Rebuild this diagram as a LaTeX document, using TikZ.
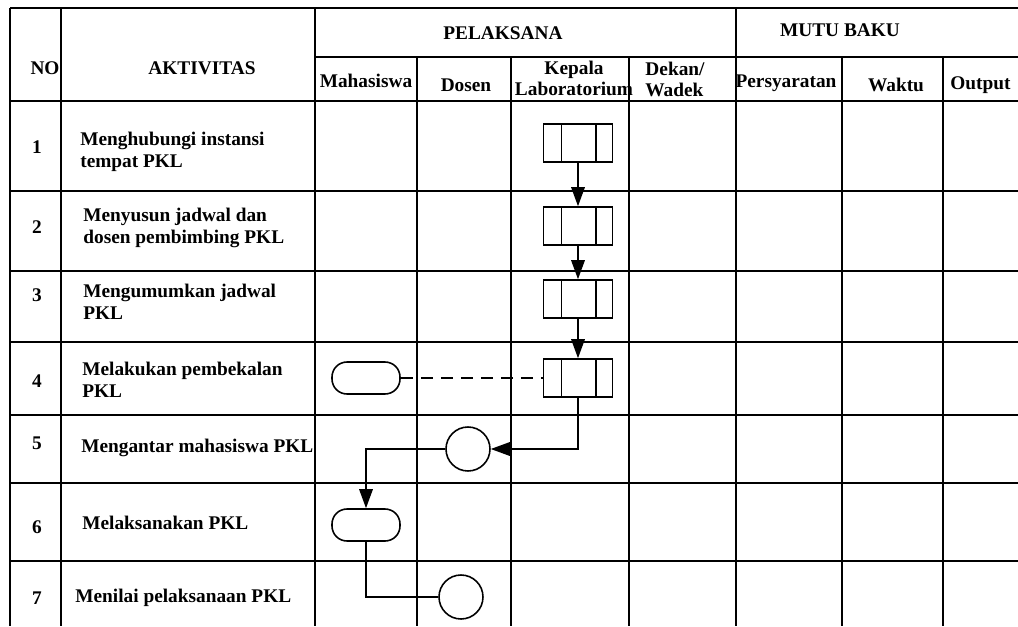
\documentclass[tikz,border=0pt]{standalone}
\usepackage{fontspec}
\setmainfont{Liberation Serif}
\usetikzlibrary{arrows.meta, positioning}
\tikzset{
  garis/.style={line width=1.2pt},
  alur/.style={line width=0.9pt},
  panah/.style={alur, -{Triangle[length=3.8mm,width=2.7mm]}},
  proses/.style={draw, line width=0.9pt, minimum width=1.38cm, minimum height=0.76cm, inner sep=0pt,
    path picture={
      \draw[line width=0.9pt] ([xshift=0.36cm]path picture bounding box.north west) -- ([xshift=0.36cm]path picture bounding box.south west);
      \draw[line width=0.9pt] ([xshift=-0.33cm]path picture bounding box.north east) -- ([xshift=-0.33cm]path picture bounding box.south east);
    }},
  terminal/.style={draw, line width=0.9pt, rounded corners=0.3cm, minimum width=1.36cm, minimum height=0.64cm, inner sep=0pt},
  konektor/.style={draw, circle, line width=0.9pt, minimum size=0.88cm, inner sep=0pt},
  judul/.style={font=\fontsize{11}{12}\selectfont\bfseries, inner sep=0pt},
  isi/.style={font=\fontsize{11}{12.5}\selectfont\bfseries, align=left, anchor=west, inner sep=0pt}
}

\begin{document}
\begin{tikzpicture}[x=0.02cm, y=-0.02cm]
\useasboundingbox (0,0) rectangle (1018,626);

% garis tabel
\draw[garis] (10,8) -- (1018,8);
\draw[garis] (315,57) -- (1018,57);
\foreach \y in {101,191,271,342,415,483,561}
  \draw[garis] (10,\y) -- (1018,\y);
\foreach \x in {10,61,315,736}
  \draw[garis] (\x,8) -- (\x,626);
\foreach \x in {417,511,629,842,943}
  \draw[garis] (\x,57) -- (\x,626);

% kepala tabel
\node[judul] (no) at (45,68) {NO};
\node[judul] (akt) at (202,68) {AKTIVITAS};
\node[judul] (pel) at (503,33) {PELAKSANA};
\node[judul] (mutu) at (840,30) {MUTU BAKU};
\node[judul] (mhs) at (366,81) {Mahasiswa};
\node[judul] (dsn) at (466,85) {Dosen};
\node[judul, align=center] (kalab) at (574,78) {Kepala\\Laboratorium};
\node[judul, align=left] (dekan) at (675,79) {Dekan/\\Wadek};
\node[judul] (syarat) at (786,83) {Persyaratan};
\node[judul] (waktu) at (896,85) {Waktu};
\node[judul, anchor=west] (out) at (950,85) {Output};

% nomor dan aktivitas
\foreach \i/\yn/\xa/\ya/\teks in {
  1/147/80/152/{Menghubungi instansi\\tempat PKL},
  2/227/83/228/{Menyusun jadwal dan\\dosen pembimbing PKL},
  3/295/83/302/{Mengumumkan jadwal\\PKL},
  4/381/82/380/{Melakukan pembekalan\\PKL},
  5/443/81/448/{Mengantar mahasiswa PKL},
  6/527/82/523/{Melaksanakan PKL},
  7/598/75/598/{Menilai pelaksanaan PKL}
}{
  \node[judul] (n\i) at (37,\yn) {\i};
  \node[isi] (a\i) at (\xa,\ya) {\teks};
}

% simbol alur
\node[proses] (p1) at (578,143) {};
\node[proses] (p2) at (578,226) {};
\node[proses] (p3) at (578,299) {};
\node[proses] (p4) at (578,378) {};
\node[terminal] (t4) at (366,378) {};
\node[konektor] (k5) at (468,449) {};
\node[terminal] (t6) at (366,525) {};
\node[konektor] (k7) at (461,597) {};

% garis alur
\draw[panah] (p1) -- (p2);
\draw[panah] (p2) -- (p3);
\draw[panah] (p3) -- (p4);
\draw[alur, dash pattern=on 0.24cm off 0.16cm] (t4) -- (p4);
\draw[panah] (p4.south) |- (k5);
\draw[panah] (k5) -| (t6);
\draw[alur] (t6) |- (k7);

\end{tikzpicture}
\end{document}
